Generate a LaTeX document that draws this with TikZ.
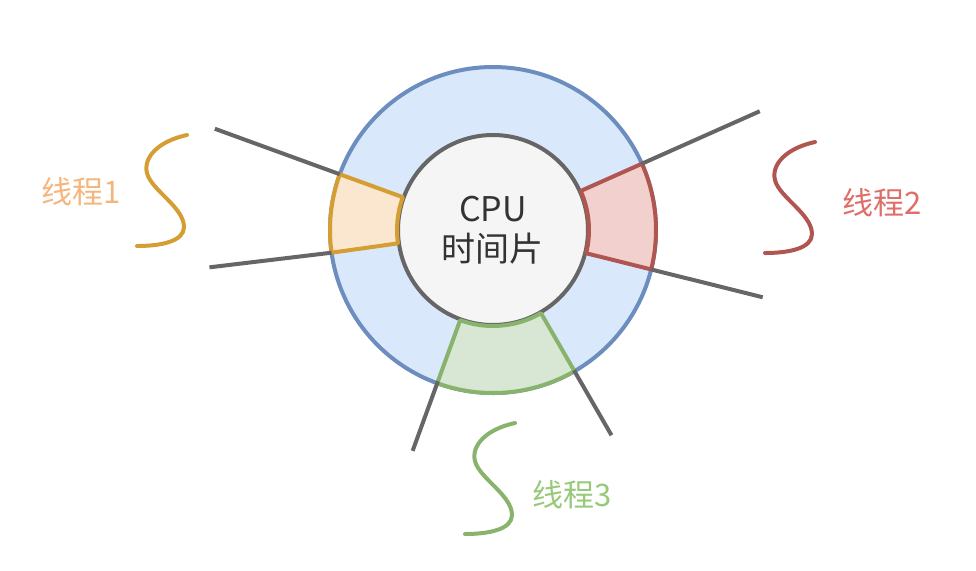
\documentclass[tikz,border=0pt]{standalone}
\usepackage{fontspec}
\setmainfont{Noto Sans CJK SC}

\definecolor{ringfill}{HTML}{DAE8FC}
\definecolor{ringline}{HTML}{6C8EBF}
\definecolor{corefill}{HTML}{F5F5F5}
\definecolor{greyline}{HTML}{666666}
\definecolor{orangefill}{HTML}{FBE6CF}
\definecolor{orangeline}{HTML}{D49E32}
\definecolor{orangetext}{HTML}{F4B67C}
\definecolor{redfill}{HTML}{F2D0CD}
\definecolor{redline}{HTML}{B05650}
\definecolor{redtext}{HTML}{DE6E68}
\definecolor{greenfill}{HTML}{D8E7D4}
\definecolor{greenline}{HTML}{88B36C}
\definecolor{greentext}{HTML}{97C97A}

% one time slice of the ring, between two angles
\newcommand{\slice}[3]{\draw[slice=#1] (#2:163) arc[start angle=#2, end angle=#3, radius=163]
	-- (#3:96) arc[start angle=#3, end angle=#2, radius=96] -- cycle;}

\tikzset{pics/wave/.style={code={
	\draw[line width=2pt, line cap=round, draw=#1] (0,0) .. controls (-28,-6) and (-44,-22) .. (-40,-38)
	.. controls (-36,-55) and (-3,-72) .. (-3,-92) .. controls (-3,-106) and (-25,-111) .. (-50,-111);
}}}

\begin{document}
\begin{tikzpicture}[x=0.5pt, y=0.5pt, line join=round,
	ring/.style={circle,draw=ringline,fill=ringfill,line width=2pt,minimum size=163pt,inner sep=0pt},
	core/.style={circle,draw=greyline,fill=corefill,line width=2pt,minimum size=95pt,inner sep=0pt,
		align=center,text=black!80,font=\fontsize{17}{20}\selectfont},
	slice/.style={draw=#1line,fill=#1fill,line width=2pt},
	spoke/.style={draw=greyline,line width=2pt},
	label/.style={font=\fontsize{15.5}{18}\selectfont}]
	
	\useasboundingbox (-493,-340) rectangle (483,230);
	
	\node[ring] (ring) at (0,0) {};
	\node[core] (cpu) at (0,0) {CPU\\时间片};
	
	\slice{orange}{160}{188}
	\slice{red}{-14}{24}
	\slice{green}{250}{300}
	
	% ends of the slices and of the spokes
	\coordinate (o1) at (160:163);
	\coordinate (o2) at (188:163);
	\coordinate (o3) at (24:163);
	\coordinate (o4) at (-14:163);
	\coordinate (o5) at (250:161);
	\coordinate (o6) at (300:162);
	\coordinate (e1) at (160:296);
	\coordinate (e2) at (187.5:286);
	\coordinate (e3) at (24:292);
	\coordinate (e4) at (-14:278);
	\coordinate (e5) at (250:235);
	\coordinate (e6) at (300:237);
	
	\path[spoke]
	(o1) edge (e1)
	(o2) edge (e2)
	(o3) edge (e3)
	(o4) edge (e4)
	(o5) edge (e5)
	(o6) edge (e6);
	
	\pic at (-306,95) {wave=orangeline};
	\pic at (322,88) {wave=redline};
	\pic at (22,-193) {wave=greenline};
	
	\node[label,text=orangetext] (t1) at (-412,38) {线程1};
	\node[label,text=redtext] (t2) at (389,27.5) {线程2};
	\node[label,text=greentext] (t3) at (79.5,-265) {线程3};
\end{tikzpicture}
\end{document}
